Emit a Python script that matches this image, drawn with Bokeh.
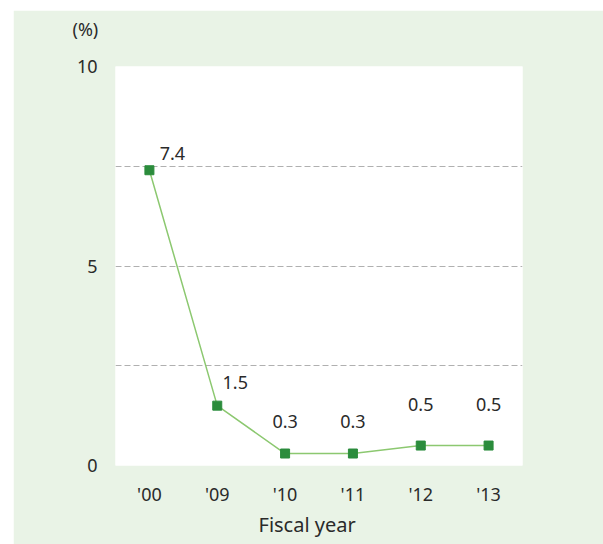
from bokeh.plotting import figure
from bokeh.models import ColumnDataSource, FixedTicker, Title
from bokeh.core.properties import value
from bokeh.embed import file_html
from bokeh.resources import INLINE

years = ["'00", "'09", "'10", "'11", "'12", "'13"]
rates = [7.4, 1.5, 0.3, 0.3, 0.5, 0.5]
value_labels = ["7.4", "1.5", "0.3", "0.3", "0.5", "0.5"]
y_ticks = [0, 5, 10]
grid_ticks = [2.5, 5, 7.5]

# label offsets in pixels (style, not data)
label_dx = [23, 18, 0, 0, 0, 0]
label_dy = [-17, -23, -32, -32, -41, -41]

FONT = "Noto Sans"
TEXT = "#2a2a2a"
FS = "18px"
xs = list(range(len(years)))

src = ColumnDataSource(dict(x=xs, y=rates, lab=value_labels, dx=label_dx, dy=label_dy))

p = figure(width=590, height=534, output_backend="svg", toolbar_location=None,
           x_range=(-0.5, len(years) - 0.5), y_range=(0, 10),
           min_border_left=102, min_border_right=81, min_border_top=55, min_border_bottom=79,
           margin=(10, 0, 0, 13))
p.background_fill_color = "white"
p.border_fill_color = "#e9f3e6"
p.outline_line_color = None

p.line("x", "y", source=src, line_color="#8cc870", line_width=1.5)
p.scatter("x", "y", source=src, marker="square", size=9, fill_color="#2b8c3c", line_color="#2b8c3c")
p.text("x", "y", text="lab", source=src, x_offset="dx", y_offset="dy",
       text_align="center", text_baseline="middle", text_font=value(FONT),
       text_font_size=FS, text_color=TEXT)

# axes
p.xaxis.ticker = FixedTicker(ticks=xs)
p.xaxis.major_label_overrides = {i: y for i, y in enumerate(years)}
p.yaxis.ticker = FixedTicker(ticks=y_ticks)
for ax in (p.xaxis[0], p.yaxis[0]):
    ax.axis_line_color = None
    ax.major_tick_line_color = None
    ax.minor_tick_line_color = None
    ax.major_label_text_font = FONT
    ax.major_label_text_font_size = FS
    ax.major_label_text_color = TEXT
p.xaxis.major_label_standoff = 10
p.yaxis.major_label_standoff = 12

p.xgrid.grid_line_color = None
p.ygrid.ticker = FixedTicker(ticks=grid_ticks)
p.ygrid.grid_line_color = "#b0b0b0"
p.ygrid.grid_line_dash = "6 3"
p.ygrid.grid_line_width = 1

# unit label above the value axis (trailing blank line lifts it clear of the "10")
unit = Title(text="(%)\n ", align="left", offset=-43, standoff=10, text_line_height=0.85,
             text_font=FONT, text_font_size=FS, text_font_style="normal", text_color=TEXT)
p.add_layout(unit, "above")

# x axis title
xtitle = Title(text="Fiscal year", align="left", offset=143, standoff=0,
               text_font=FONT, text_font_size="20px", text_font_style="normal", text_color=TEXT)
p.add_layout(xtitle, "below")

open("out.html", "w").write(file_html(p, INLINE))
